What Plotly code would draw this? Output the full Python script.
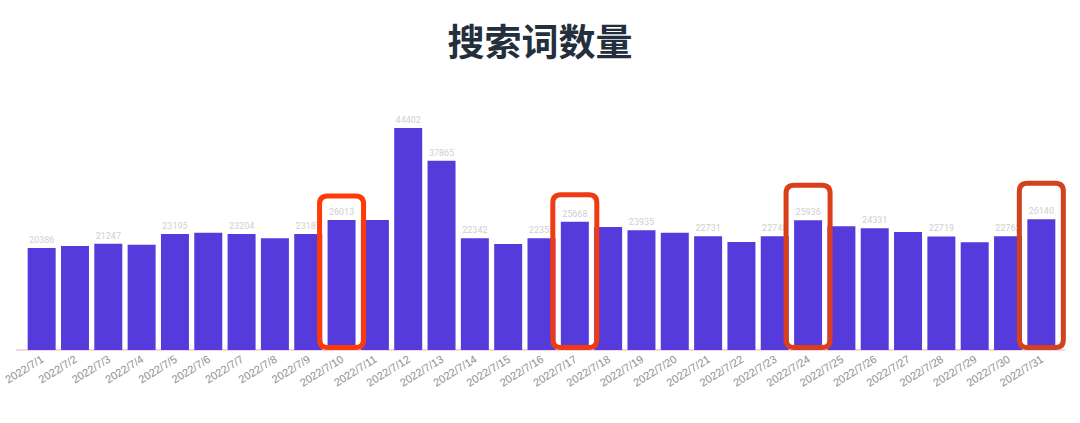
import plotly.graph_objects as go

# ---- data ----
dates = [f"2022/7/{d}" for d in range(1, 32)]
counts = [20386, 20812, 21247, 21068, 23195, 23471, 23204, 22336, 23187, 26013,
          25987, 44402, 37865, 22342, 21190, 22355, 25668, 24601, 23935, 23467,
          22731, 21602, 22748, 25936, 24738, 24331, 23602, 22719, 21538, 22762, 26140]
labelled_days = [1, 3, 5, 7, 9, 10, 12, 13, 14, 16, 17, 19, 21, 23, 24, 26, 28, 30, 31]
highlight_days = [10, 17, 24, 31]

# ---- styles ----
BAR_COLOR = "#553bdc"
BOX_COLORS = ["#ff3a08", "#ee3b14", "#dc3e1c", "#d2421f"]
BOX_TOP_PAD = [4800, 5400, 7000, 7200]  # y units above bar top
Y_MAX = 50000
N = len(dates)

xs = list(range(1, N + 1))
texts = [f"{v}" if (i + 1) in labelled_days else "" for i, v in enumerate(counts)]

fig = go.Figure()
fig.add_trace(go.Bar(
    x=xs, y=counts, marker=dict(color=BAR_COLOR, line=dict(width=0)),
    text=texts, textposition="outside", cliponaxis=False,
    textfont=dict(size=9, color="#d0d0d0", family="Roboto"),
    hoverinfo="x+y",
))

# body margin is removed in the page (post_script), so the figure fills the window
W, H = 1080, 423
ml, mr, mt, mb = 25, 22, 100, 73
pw = W - ml - mr
ph = H - mt - mb


def xp(x):  # data x -> paper
    return (x - 0.5) / N


def yp(y):  # data y -> paper
    return y / Y_MAX


shapes = []
for k, day in enumerate(highlight_days):
    v = counts[day - 1]
    x0, x1 = xp(day) - 22 / pw, xp(day) + 22 / pw
    y0 = yp(0) + 2.5 / ph
    y1 = yp(v + BOX_TOP_PAD[k])
    rx, ry = 8 / pw, 8 / ph
    path = (f"M {x0},{y0+ry} L {x0},{y1-ry} Q {x0},{y1} {x0+rx},{y1} "
            f"L {x1-rx},{y1} Q {x1},{y1} {x1},{y1-ry} L {x1},{y0+ry} "
            f"Q {x1},{y0} {x1-rx},{y0} L {x0+rx},{y0} Q {x0},{y0} {x0},{y0+ry} Z")
    shapes.append(dict(type="path", path=path, xref="paper", yref="paper",
                       line=dict(color=BOX_COLORS[k], width=5), layer="above"))

# baseline
shapes.append(dict(type="line", xref="paper", yref="paper", x0=-9 / pw, x1=1 + 7.5 / pw,
                   y0=yp(0), y1=yp(0), line=dict(color="#f6a7c1", width=1.2), layer="below"))

fig.update_layout(
    width=W, height=H,
    margin=dict(l=ml, r=mr, t=mt, b=mb),
    paper_bgcolor="white", plot_bgcolor="white",
    bargap=0.16,
    showlegend=False,
    title=dict(text="<b>搜索词数量</b>", x=0.5, xanchor="center",
               y=(H - 43) / H, yanchor="middle", yref="container",
               font=dict(size=37, color="#242f3d", family="Noto Sans CJK SC")),
    xaxis=dict(range=[0.5, N + 0.5], tickmode="array", tickvals=xs, ticktext=dates,
               tickangle=-32, tickfont=dict(size=11, color="#8e8e8e", family="Liberation Sans"),
               ticklabeloverflow="allow", automargin=False,
               showgrid=False, zeroline=False, showline=False, ticks="", fixedrange=True),
    yaxis=dict(range=[0, Y_MAX], showgrid=False, zeroline=False, showline=False,
               showticklabels=False, ticks="", fixedrange=True),
    shapes=shapes,
)

fig.write_html("out.html", config={"displayModeBar": False},
               post_script="document.body.style.margin='0';document.body.style.overflow='hidden';")
